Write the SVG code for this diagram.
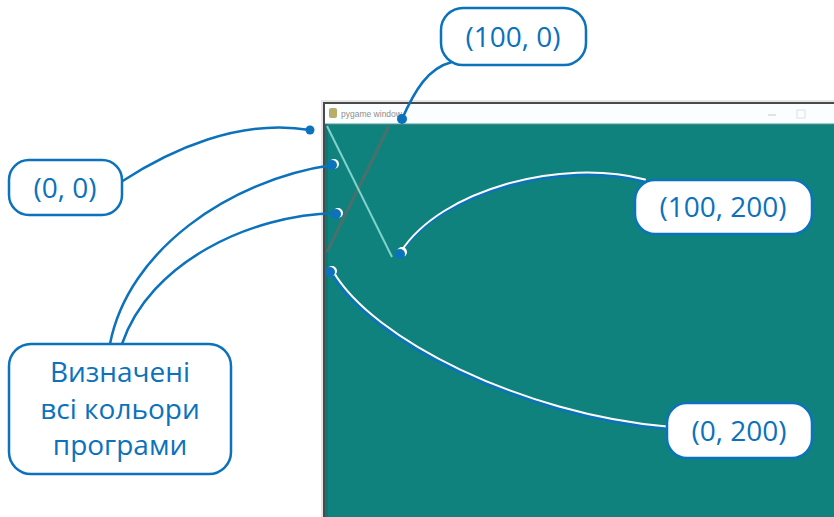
<svg xmlns="http://www.w3.org/2000/svg" width="834" height="517" viewBox="0 0 834 517">
<defs>
<style>
.box{fill:#ffffff;stroke:#0b72bb;stroke-width:2.5}
.lbl{font-family:"Open Sans","Noto Sans",sans-serif;font-size:28px;fill:#0b72bb;text-anchor:middle}
.con{fill:none;stroke:#0b72bb;stroke-width:2.5;stroke-linecap:round}
.hl{fill:none;stroke:#ffffff;stroke-width:2;stroke-linecap:round}
.dot{fill:#0b72bb}
.dotw{fill:#ffffff}
</style>
</defs>
<rect width="834" height="517" fill="#ffffff"/>
<g id="window">
<rect x="321" y="100" width="513" height="417" fill="#e6e6e6"/>
<rect x="323" y="102" width="511" height="415" fill="#4a4a4a"/>
<rect x="325" y="104" width="509" height="20" fill="#fbfefe"/>
<rect x="325" y="123" width="509" height="1.5" fill="#9ccfcc"/>
<rect x="325" y="124.5" width="509" height="392.5" fill="#10827e"/>
<rect x="325" y="124.5" width="3" height="392.5" fill="#0f7773"/>
<rect x="329" y="108" width="8" height="10" rx="2" fill="#b9ad6a"/>
<text x="341" y="117" font-family="Liberation Sans, sans-serif" font-size="8.5" fill="#8f8f8f">pygame window</text>
<line x1="768" y1="115" x2="776" y2="115" stroke="#c8c8c8" stroke-width="1"/>
<rect x="797" y="110" width="8" height="8" fill="none" stroke="#e0e0e0" stroke-width="1"/>
<line x1="389" y1="126" x2="327" y2="252" stroke="#6e6660" stroke-width="3" opacity="0.6"/>
<line x1="327" y1="126" x2="392" y2="257" stroke="#7fd3cc" stroke-width="2"/>
</g>
<g id="connectors">
<path class="con" d="M121,182 C170,150 240,118 310,130"/>
<path class="con" d="M402,119 C415,90 428,68 452,62"/>
<path class="con" d="M110,344 C128,250 230,180 332,165"/>
<path class="con" d="M122,344 C150,262 250,215 336,213"/>
<path class="con" d="M400,254 C440,192 560,160 645,182"/>
<path class="hl" d="M401,251.5 C441,189.5 561,157.5 645,179.5"/>
<path class="con" d="M331,273 C370,341 520,416 667,429"/>
<path class="hl" d="M333,271 C372,339 522,414 667,426.5"/>
<circle class="dot" cx="310" cy="130" r="4.5"/>
<circle class="dot" cx="402" cy="119" r="5"/>
<circle class="dotw" cx="334" cy="164" r="5"/>
<circle class="dot" cx="332" cy="165" r="5"/>
<circle class="dotw" cx="338" cy="213" r="5"/>
<circle class="dot" cx="336" cy="214" r="5"/>
<circle class="dotw" cx="402" cy="252" r="5"/>
<circle class="dot" cx="400" cy="254" r="5"/>
<circle class="dotw" cx="332" cy="271" r="5"/>
<circle class="dot" cx="330" cy="272" r="5"/>
</g>
<g id="node-100-0">
<rect class="box" x="441" y="8" width="145" height="57" rx="22"/>
<text class="lbl" x="513" y="47">(100, 0)</text>
</g>
<g id="node-0-0">
<rect class="box" x="9" y="160" width="113" height="55" rx="20"/>
<text class="lbl" x="65" y="198">(0, 0)</text>
</g>
<g id="node-100-200">
<rect class="box" x="635" y="180" width="177" height="54" rx="20"/>
<text class="lbl" x="723" y="217">(100, 200)</text>
</g>
<g id="node-0-200">
<rect class="box" x="667" y="403" width="145" height="55" rx="20"/>
<text class="lbl" x="739" y="441">(0, 200)</text>
</g>
<g id="node-colors">
<rect class="box" x="9" y="344" width="222" height="130" rx="22"/>
<text class="lbl" x="120" y="382">Визначені</text>
<text class="lbl" x="120" y="419">всі кольори</text>
<text class="lbl" x="120" y="455">програми</text>
</g>
</svg>
